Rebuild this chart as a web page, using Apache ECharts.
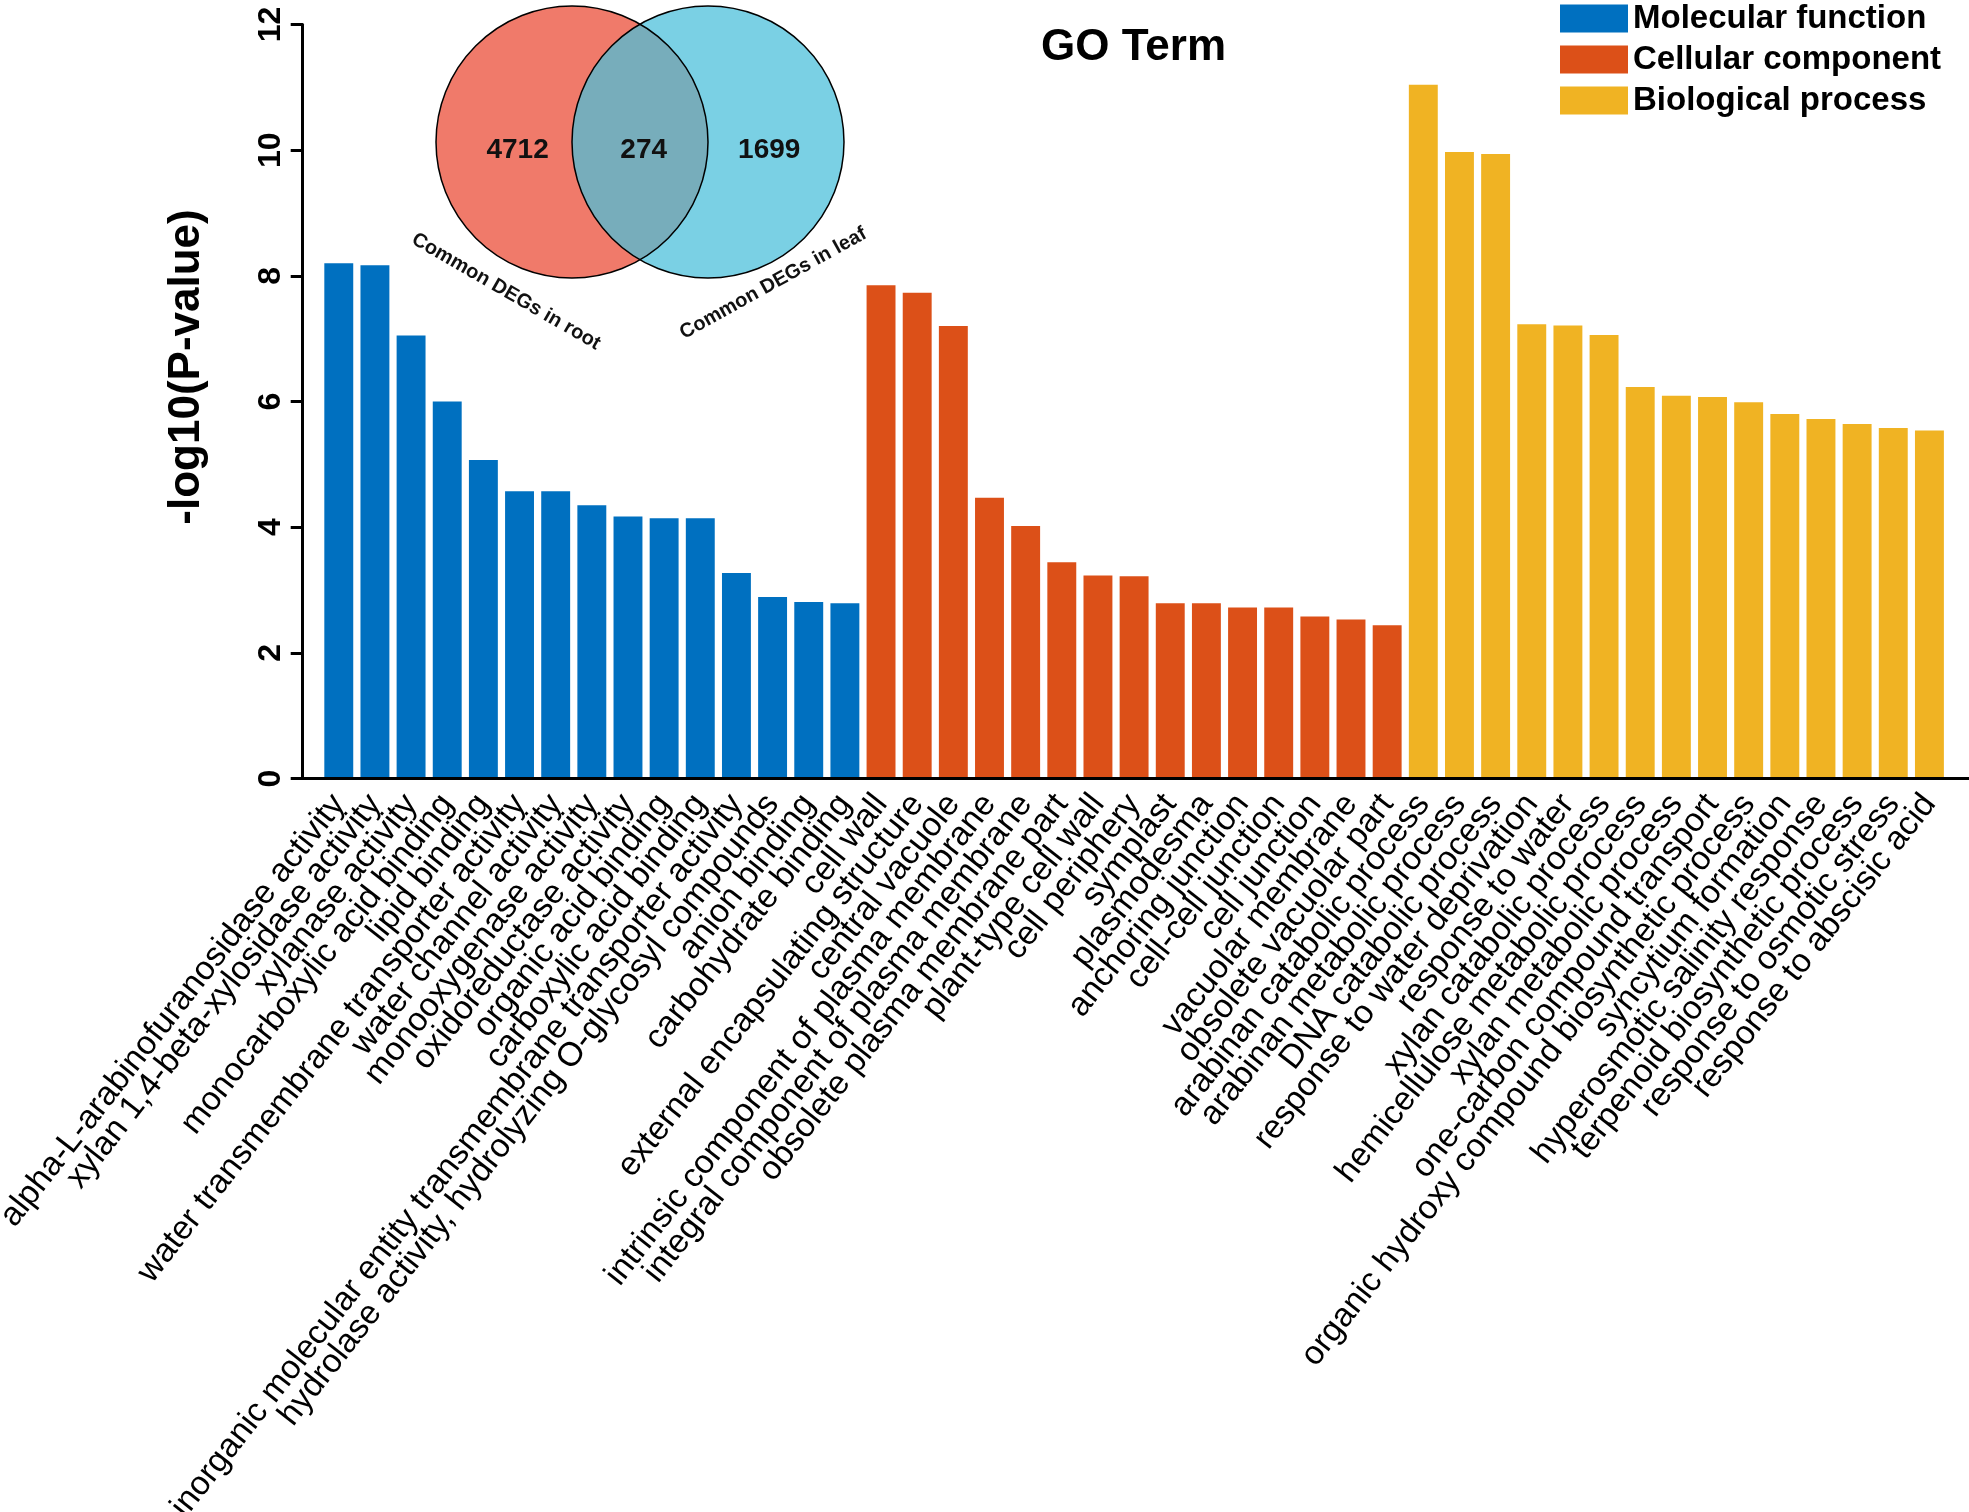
<!DOCTYPE html>
<html>
<head>
<meta charset="utf-8">
<title>GO Term</title>
<script src="https://cdn.jsdelivr.net/npm/echarts@6/dist/echarts.min.js"></script>
<style>
  html, body { margin: 0; padding: 0; background: #fff; }
  #chart { width: 1969px; height: 1512px; }
</style>
</head>
<body>
<div id="chart"></div>
<script>
// GO enrichment terms, one array per ontology
const mfTerms = [
  'alpha-L-arabinofuranosidase activity',
  'xylan 1,4-beta-xylosidase activity',
  'xylanase activity',
  'monocarboxylic acid binding',
  'lipid binding',
  'water transmembrane transporter activity',
  'water channel activity',
  'monooxygenase activity',
  'oxidoreductase activity',
  'organic acid binding',
  'carboxylic acid binding',
  'inorganic molecular entity transmembrane transporter activity',
  'hydrolase activity, hydrolyzing O-glycosyl compounds',
  'anion binding',
  'carbohydrate binding'
];
const mfValues = [8.2, 8.17, 7.05, 6.0, 5.07, 4.57, 4.57, 4.35, 4.17, 4.14, 4.14, 3.27, 2.89, 2.81, 2.79];

const ccTerms = [
  'cell wall',
  'external encapsulating structure',
  'central vacuole',
  'intrinsic component of plasma membrane',
  'integral component of plasma membrane',
  'obsolete plasma membrane part',
  'plant-type cell wall',
  'cell periphery',
  'symplast',
  'plasmodesma',
  'anchoring junction',
  'cell-cell junction',
  'cell junction',
  'vacuolar membrane',
  'obsolete vacuolar part'
];
const ccValues = [7.85, 7.73, 7.2, 4.47, 4.02, 3.44, 3.23, 3.22, 2.79, 2.79, 2.72, 2.72, 2.58, 2.53, 2.44];

const bpTerms = [
  'arabinan catabolic process',
  'arabinan metabolic process',
  'DNA catabolic process',
  'response to water deprivation',
  'response to water',
  'xylan catabolic process',
  'hemicellulose metabolic process',
  'xylan metabolic process',
  'one-carbon compound transport',
  'organic hydroxy compound biosynthetic process',
  'syncytium formation',
  'hyperosmotic salinity response',
  'terpenoid biosynthetic process',
  'response to osmotic stress',
  'response to abscisic acid'
];
const bpValues = [11.04, 9.97, 9.94, 7.23, 7.21, 7.06, 6.23, 6.09, 6.07, 5.99, 5.8, 5.72, 5.64, 5.58, 5.54];

const groupNames = ['Molecular function', 'Cellular component', 'Biological process'];
const groupColors = ['#0070C0', '#DC5018', '#F0B323'];

// venn inset
const vennSets = ['Common DEGs in root', 'Common DEGs in leaf'];
const vennCounts = [4712, 274, 1699]; // root only, shared, leaf only
const vennColors = ['#F07A6A', '#7AD0E4', '#77ADBB'];

const categories = mfTerms.concat(ccTerms, bpTerms);
const FONT = '"Liberation Sans", Arial, sans-serif';

// pad each group's values with null so the three series share one category axis
function spread(values, offset) {
  const out = categories.map(() => null);
  values.forEach((v, i) => { out[offset + i] = v; });
  return out;
}

const groupValues = [
  spread(mfValues, 0),
  spread(ccValues, mfTerms.length),
  spread(bpValues, mfTerms.length + ccTerms.length)
];

const chart = echarts.init(document.getElementById('chart'), null, { renderer: 'canvas' });

const barSeries = groupNames.map((name, i) => ({
  name: name,
  type: 'bar',
  stack: 'go',
  xAxisIndex: 0,
  yAxisIndex: 0,
  barCategoryGap: '20%',
  itemStyle: { color: groupColors[i] },
  data: groupValues[i]
}));

// venn: circles centred at (1,1) and (2,1), radius 1, in the inset grid
function renderVenn(params, api) {
  const idx = params.dataIndex;
  const c1 = api.coord([1, 1]);
  const c2 = api.coord([2, 1]);
  const r = api.size([1, 0])[0];
  const children = [];
  const numStyle = { fill: '#111', fontSize: 28, fontWeight: 'bold', fontFamily: FONT, align: 'center', verticalAlign: 'middle' };
  const setStyle = { fill: '#111', fontSize: 20, fontWeight: 'bold', fontFamily: FONT, align: 'center', verticalAlign: 'middle' };

  if (idx === 0) {
    children.push({ type: 'circle', z2: 1, shape: { cx: c1[0], cy: c1[1], r: r }, style: { fill: vennColors[0] } });
    children.push({ type: 'circle', z2: 3, shape: { cx: c1[0], cy: c1[1], r: r }, style: { fill: 'none', stroke: '#000', lineWidth: 1.5 } });
    const p = api.coord([0.6, 0.94]);
    children.push({ type: 'text', z2: 4, x: p[0], y: p[1], style: Object.assign({ text: String(api.value(1)) }, numStyle) });
    const q = api.coord([0.515, -0.1]);
    children.push({ type: 'text', z2: 4, x: q[0], y: q[1], rotation: -30 * Math.PI / 180, style: Object.assign({ text: vennSets[0] }, setStyle) });
  } else if (idx === 2) {
    children.push({ type: 'circle', z2: 1, shape: { cx: c2[0], cy: c2[1], r: r }, style: { fill: vennColors[1] } });
    children.push({ type: 'circle', z2: 3, shape: { cx: c2[0], cy: c2[1], r: r }, style: { fill: 'none', stroke: '#000', lineWidth: 1.5 } });
    const p = api.coord([2.45, 0.94]);
    children.push({ type: 'text', z2: 4, x: p[0], y: p[1], style: Object.assign({ text: String(api.value(1)) }, numStyle) });
    const q = api.coord([2.48, -0.04]);
    children.push({ type: 'text', z2: 4, x: q[0], y: q[1], rotation: 29 * Math.PI / 180, style: Object.assign({ text: vennSets[1] }, setStyle) });
  } else {
    const mx = (c1[0] + c2[0]) / 2;
    const d = (c2[0] - c1[0]) / 2;
    const h = Math.sqrt(r * r - d * d);
    const top = c1[1] - h, bot = c1[1] + h;
    const path = 'M' + mx + ' ' + top + ' A' + r + ' ' + r + ' 0 0 1 ' + mx + ' ' + bot +
      ' A' + r + ' ' + r + ' 0 0 1 ' + mx + ' ' + top + ' Z';
    children.push({ type: 'path', z2: 2, shape: { pathData: path }, style: { fill: vennColors[2] } });
    const p = api.coord([1.527, 0.94]);
    children.push({ type: 'text', z2: 4, x: p[0], y: p[1], style: Object.assign({ text: String(api.value(1)) }, numStyle) });
  }
  return { type: 'group', children: children };
}

const option = {
  backgroundColor: '#fff',
  animation: false,
  textStyle: { fontFamily: FONT },
  title: {
    text: 'GO Term',
    left: 1041,
    top: 26,
    padding: 0,
    textStyle: { fontSize: 44, fontWeight: 'bold', color: '#000', fontFamily: FONT }
  },
  legend: {
    data: groupNames,
    orient: 'vertical',
    left: 1560,
    top: 2,
    padding: 0,
    itemWidth: 68,
    itemHeight: 28,
    itemGap: 8,
    icon: 'rect',
    selectedMode: false,
    textStyle: { fontSize: 33, lineHeight: 28, fontWeight: 'bold', color: '#000', fontFamily: FONT }
  },
  grid: [
    { left: 320.7, right: 21.5, top: 24.5, bottom: 733.5, containLabel: false, outerBoundsMode: 'none' },
    { left: 436, top: 6, width: 408, height: 272, containLabel: false, outerBoundsMode: 'none' }
  ],
  xAxis: [
    {
      type: 'category',
      gridIndex: 0,
      data: categories,
      axisLine: { show: false },
      axisTick: { show: false },
      axisLabel: {
        interval: 0,
        rotate: 52,
        margin: 20,
        fontSize: 33.5,
        color: '#000',
        fontFamily: FONT
      }
    },
    { type: 'value', gridIndex: 1, min: 0, max: 3, show: false }
  ],
  yAxis: [
    {
      type: 'value',
      gridIndex: 0,
      min: 0,
      max: 12,
      interval: 2,
      offset: 18,
      name: '-log10(P-value)',
      nameLocation: 'middle',
      nameRotate: 90,
      nameGap: 94,
      nameTextStyle: { fontSize: 44, fontWeight: 'bold', color: '#000', fontFamily: FONT, padding: [0, 0, 0, 69] },
      axisLine: { show: true, lineStyle: { color: '#000', width: 3 } },
      axisTick: { show: true, length: 12, lineStyle: { color: '#000', width: 3 } },
      splitLine: { show: false },
      axisLabel: {
        rotate: 90,
        margin: 16,
        fontSize: 32,
        fontWeight: 'bold',
        color: '#000',
        fontFamily: FONT
      }
    },
    { type: 'value', gridIndex: 1, min: 0, max: 2, show: false }
  ],
  graphic: [
    {
      type: 'line',
      z: 10,
      shape: { x1: 291, y1: 778.5, x2: 1969, y2: 778.5 },
      style: { stroke: '#000', lineWidth: 3 }
    }
  ],
  series: barSeries.concat([
    {
      type: 'custom',
      name: 'venn',
      xAxisIndex: 1,
      yAxisIndex: 1,
      clip: false,
      z: 5,
      renderItem: renderVenn,
      data: vennCounts.map((v, i) => [i, v])
    }
  ])
};

chart.setOption(option);
</script>
</body>
</html>
